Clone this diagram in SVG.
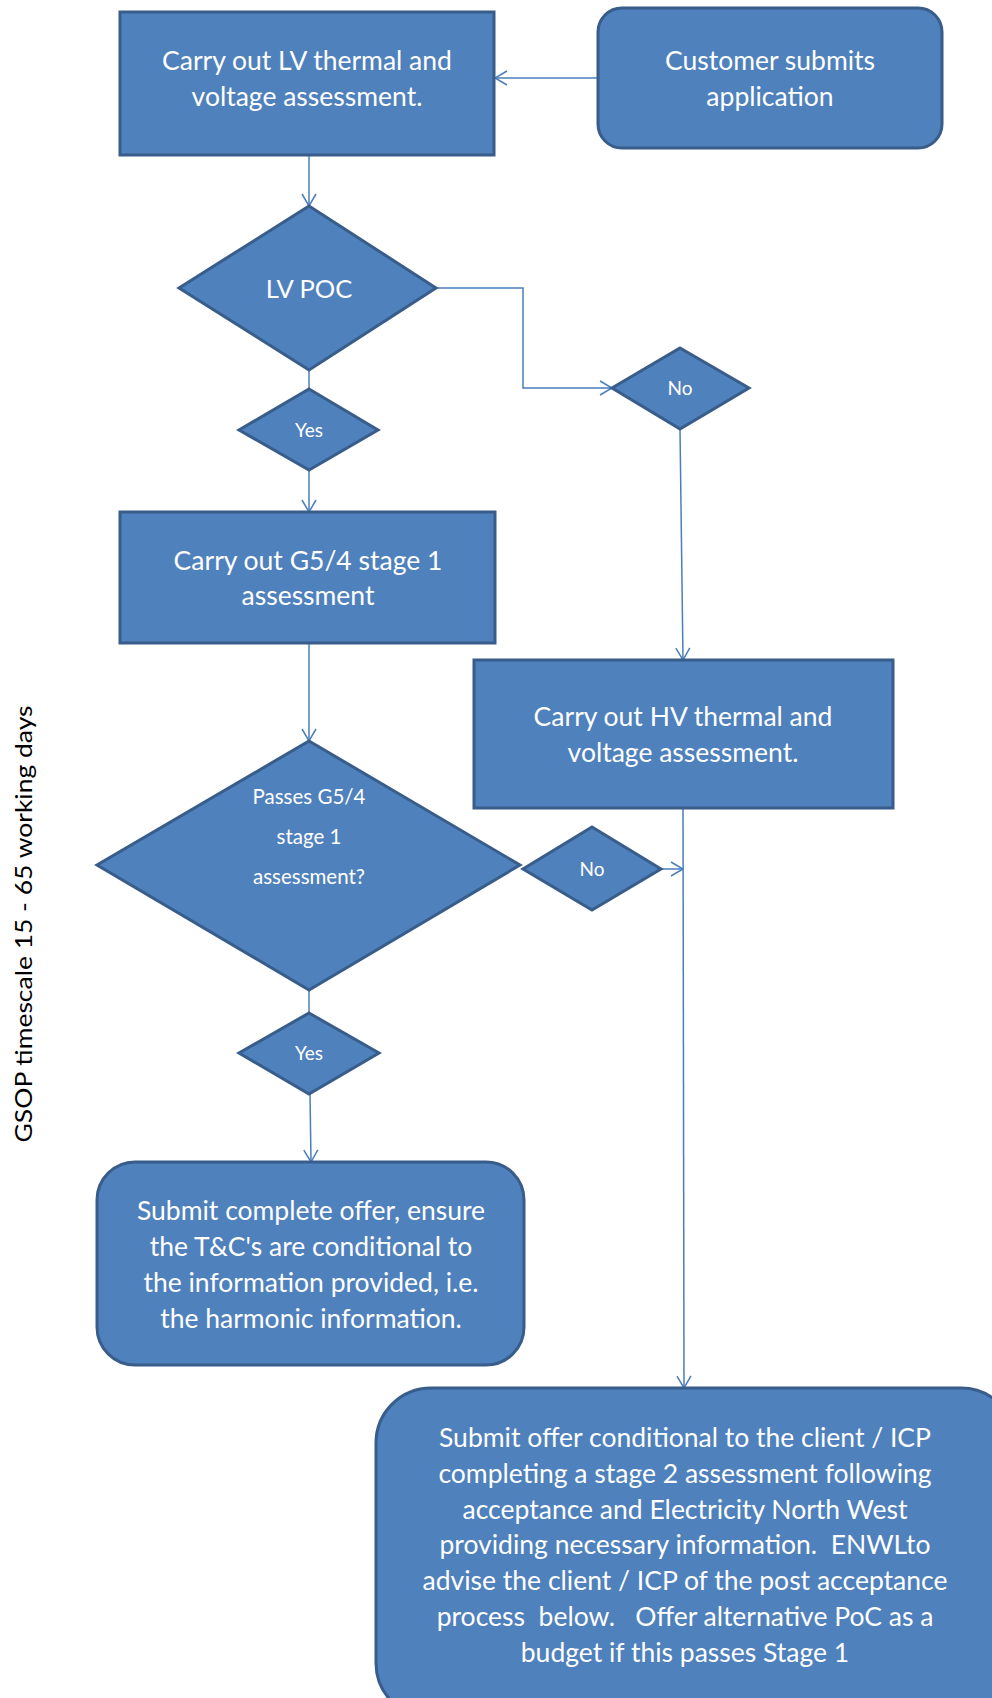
<svg xmlns="http://www.w3.org/2000/svg" width="992" height="1698" viewBox="0 0 992 1698">
<style>
.n{fill:#4F81BD;stroke:#385D8A;stroke-width:3}
.t{font-family:Lato,"Liberation Sans",sans-serif;fill:#FFFFFF;text-anchor:middle}
.b{font-size:26.5px}
.s{font-size:19px}
.c{fill:none;stroke:#4A7EBB;stroke-width:1.5}
.lbl{font-family:Lato,"Liberation Sans",sans-serif;fill:#000;text-anchor:middle}
</style>
<defs>
<marker id="ah" markerWidth="14" markerHeight="16" refX="13" refY="8" orient="auto" markerUnits="userSpaceOnUse">
<path d="M1,1 L13,8 L1,15" fill="none" stroke="#4A7EBB" stroke-width="1.5"/>
</marker>
</defs>
<rect width="992" height="1698" fill="#FFFFFF"/>

<g id="connectors">
<line class="c" x1="598" y1="78" x2="495" y2="78" marker-end="url(#ah)"/>
<line class="c" x1="309" y1="155" x2="309" y2="206" marker-end="url(#ah)"/>
<polyline class="c" points="436,288 523,288 523,388 612,388" marker-end="url(#ah)"/>
<line class="c" x1="680" y1="429" x2="683" y2="660" marker-end="url(#ah)"/>
<line class="c" x1="309" y1="370" x2="309" y2="389"/>
<line class="c" x1="309" y1="470" x2="309" y2="512" marker-end="url(#ah)"/>
<line class="c" x1="309" y1="643" x2="309" y2="741" marker-end="url(#ah)"/>
<line class="c" x1="661" y1="869" x2="683" y2="869" marker-end="url(#ah)"/>
<line class="c" x1="683" y1="808" x2="684" y2="1388" marker-end="url(#ah)"/>
<line class="c" x1="309" y1="990" x2="309" y2="1013"/>
<line class="c" x1="310" y1="1094" x2="311" y2="1162" marker-end="url(#ah)"/>
</g>

<g id="lv-assess">
<rect class="n" x="120" y="12" width="374" height="143"/>
<text class="t b" x="307" y="70">Carry out LV thermal and</text>
<text class="t b" x="307" y="106">voltage assessment.</text>
</g>

<g id="customer">
<rect class="n" x="598" y="8" width="344" height="140" rx="24" ry="24"/>
<text class="t b" x="770" y="70">Customer submits</text>
<text class="t b" x="770" y="106">application</text>
</g>

<g id="lv-poc">
<polygon class="n" points="309,206 436,288 309,370 179,288"/>
<text class="t" font-size="25.5" x="309" y="298">LV POC</text>
</g>

<g id="no1">
<polygon class="n" points="680,348 749,388 680,429 612,388"/>
<text class="t s" x="680" y="395">No</text>
</g>

<g id="yes1">
<polygon class="n" points="309,389 378,430 309,470 239,430"/>
<text class="t s" x="309" y="437">Yes</text>
</g>

<g id="g54-assess">
<rect class="n" x="120" y="512" width="375" height="131"/>
<text class="t b" x="308" y="570">Carry out G5/4 stage 1</text>
<text class="t b" x="308" y="605">assessment</text>
</g>

<g id="hv-assess">
<rect class="n" x="474" y="660" width="419" height="148"/>
<text class="t b" x="683" y="726">Carry out HV thermal and</text>
<text class="t b" x="683" y="762">voltage assessment.</text>
</g>

<g id="passes">
<polygon class="n" points="309,741 520,865 309,990 97,865"/>
<text class="t" font-size="20.5" x="309" y="804">Passes G5/4</text>
<text class="t" font-size="20.5" x="309" y="844">stage 1</text>
<text class="t" font-size="20.5" x="309" y="884">assessment?</text>
</g>

<g id="no2">
<polygon class="n" points="592,827 661,869 592,910 523,869"/>
<text class="t s" x="592" y="876">No</text>
</g>

<g id="yes2">
<polygon class="n" points="309,1013 379,1053 309,1094 239,1053"/>
<text class="t s" x="309" y="1060">Yes</text>
</g>

<g id="complete-offer">
<rect class="n" x="97" y="1162" width="427" height="203" rx="38" ry="38"/>
<text class="t b" x="311" y="1220">Submit complete offer, ensure</text>
<text class="t b" x="311" y="1256">the T&amp;C's are conditional to</text>
<text class="t b" x="311" y="1292">the information provided, i.e.</text>
<text class="t b" x="311" y="1328">the harmonic information.</text>
</g>

<g id="conditional-offer">
<rect class="n" x="376" y="1388" width="640" height="330" rx="55" ry="55"/>
<text class="t b" x="685" y="1447">Submit offer conditional to the client / ICP</text>
<text class="t b" x="685" y="1483">completing a stage 2 assessment following</text>
<text class="t b" x="685" y="1519">acceptance and Electricity North West</text>
<text class="t b" x="685" y="1554" xml:space="preserve">providing necessary information.  ENWLto</text>
<text class="t b" x="685" y="1590">advise the client / ICP of the post acceptance</text>
<text class="t b" x="685" y="1626" xml:space="preserve">process  below.   Offer alternative PoC as a</text>
<text class="t b" x="685" y="1662">budget if this passes Stage 1</text>
</g>

<g id="timescale-label">
<text class="lbl" font-size="24" textLength="437" lengthAdjust="spacingAndGlyphs" transform="translate(32,924) rotate(-90)">GSOP timescale 15 - 65 working days</text>
</g>
</svg>
